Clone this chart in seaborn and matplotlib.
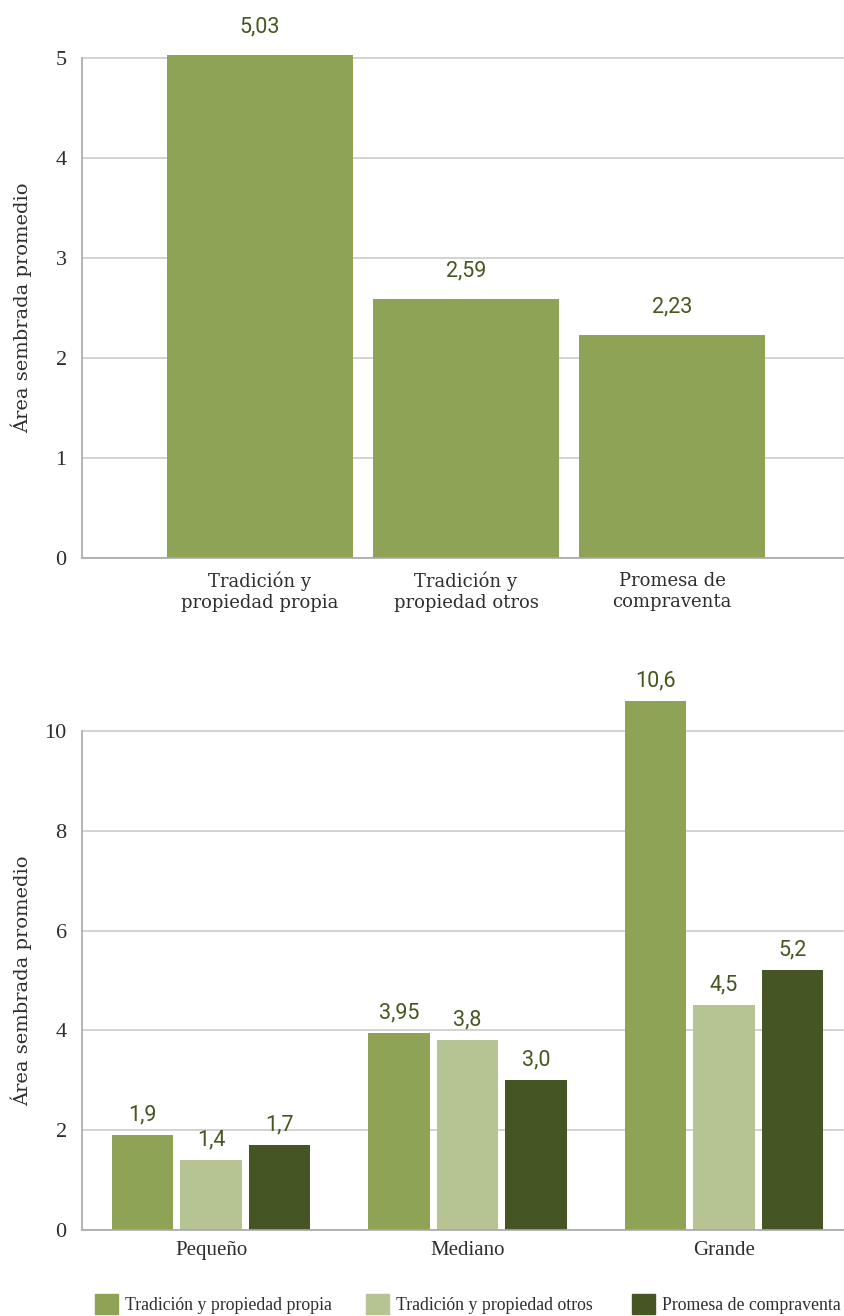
import matplotlib
matplotlib.use("Agg")
import matplotlib.pyplot as plt
import matplotlib.patches as mpatches
import seaborn as sns
import pandas as pd

# --- data -----------------------------------------------------------------
tenencia = ["Tradición y\npropiedad propia", "Tradición y\npropiedad otros", "Promesa de\ncompraventa"]
area_tenencia = [5.03, 2.59, 2.23]

tamanos = ["Pequeño", "Mediano", "Grande"]
series = ["Tradición y propiedad propia", "Tradición y propiedad otros", "Promesa de compraventa"]
area_propia = [1.9, 3.95, 10.6]
area_otros = [1.4, 3.8, 4.5]
area_promesa = [1.7, 3.0, 5.2]

colores = ["#8fa357", "#b6c393", "#455624"]
color_valor = "#46561f"
color_grid = "#c6c6c6"
color_eje = "#a8a8a8"
color_texto = "#2e2e2e"

ylabel = "Área sembrada promedio"
yticks_top = [0, 1, 2, 3, 4, 5]
yticks_bottom = [0, 2, 4, 6, 8, 10]


def fmt(v):
    s = ("%.2f" % v).rstrip("0")
    if s.endswith("."):
        s += "0"
    return s.replace(".", ",")


sns.set_theme(style="white")
plt.rcParams["font.family"] = ["DejaVu Serif"]
plt.rcParams["text.color"] = color_texto

fig = plt.figure(figsize=(8.44, 13.16), dpi=100)
W, H = 844, 1316


def style_axes(ax, ticks, ymax):
    ax.set_yticks(ticks)
    ax.set_yticklabels([str(t) for t in ticks], fontsize=16, color=color_texto,
                       family="Liberation Serif")
    ax.yaxis.grid(True, color=color_grid, linewidth=1.1)
    ax.set_axisbelow(True)
    for s in ["top", "right"]:
        ax.spines[s].set_visible(False)
    for s in ["left", "bottom"]:
        ax.spines[s].set_color(color_eje)
        ax.spines[s].set_linewidth(1.2)
    ax.spines["left"].set_bounds(ticks[0], ticks[-1])
    ax.tick_params(axis="both", length=0, pad=11)
    ax.set_xlabel("")
    ax.set_ylabel(ylabel, fontsize=14, color=color_texto)
    ax.yaxis.set_label_coords(-0.066, (ticks[-1] / 2) / ymax)


def label_bars(ax, pad):
    for c in ax.containers:
        ax.bar_label(c, labels=[fmt(v) for v in c.datavalues], padding=pad,
                     fontsize=15.5, color=color_valor, family="Roboto")


# --- top chart: average area by tenure type --------------------------------
ax1 = fig.add_axes([82 / W, (H - 558) / H, (W - 82) / W, 503 / H])
df1 = pd.DataFrame({"tenencia": tenencia, "area": area_tenencia})
sns.barplot(data=df1, x="tenencia", y="area", color=colores[0], saturation=1,
            width=0.9, linewidth=0, ax=ax1)
ax1.set_ylim(0, 5.03)
ax1.set_xlim(-0.864, 2.835)
style_axes(ax1, yticks_top, 5.03)
ax1.tick_params(axis="x", pad=10)
for t in ax1.get_xticklabels():
    t.set_fontsize(13)
    t.set_color(color_texto)
label_bars(ax1, 13)

# --- bottom chart: average area by producer size ---------------------------
ax2 = fig.add_axes([82 / W, (H - 1230) / H, (W - 82) / W, 534 / H])
df2 = pd.DataFrame({
    "tamano": tamanos * 3,
    "serie": [series[0]] * 3 + [series[1]] * 3 + [series[2]] * 3,
    "area": area_propia + area_otros + area_promesa,
})
sns.barplot(data=df2, x="tamano", y="area", hue="serie", hue_order=series,
            palette=colores, saturation=1, width=0.8, gap=0.1, linewidth=0,
            ax=ax2, legend=False)
ax2.set_ylim(0, 10.7)
ax2.set_xlim(-0.503, 2.468)
style_axes(ax2, yticks_bottom, 10.7)
ax2.tick_params(axis="x", pad=8)
for t in ax2.get_xticklabels():
    t.set_fontsize(15)
    t.set_family("Liberation Serif")
    t.set_color(color_texto)
label_bars(ax2, 7)

# --- legend: one entry per series, placed along the bottom ------------------
legend_x = [95, 366, 632]
for col, lab, x in zip(colores, series, legend_x):
    h = mpatches.Patch(color=col, label=lab)
    fig.legend(handles=[h], loc="center left", frameon=False,
               bbox_to_anchor=(x / W, 1 - 1304 / H),
               prop={"family": "Liberation Serif", "size": 12.8},
               handlelength=1.3, handleheight=1.3, handletextpad=0.4,
               borderaxespad=0, borderpad=0)

fig.savefig("out.png", dpi=100)
